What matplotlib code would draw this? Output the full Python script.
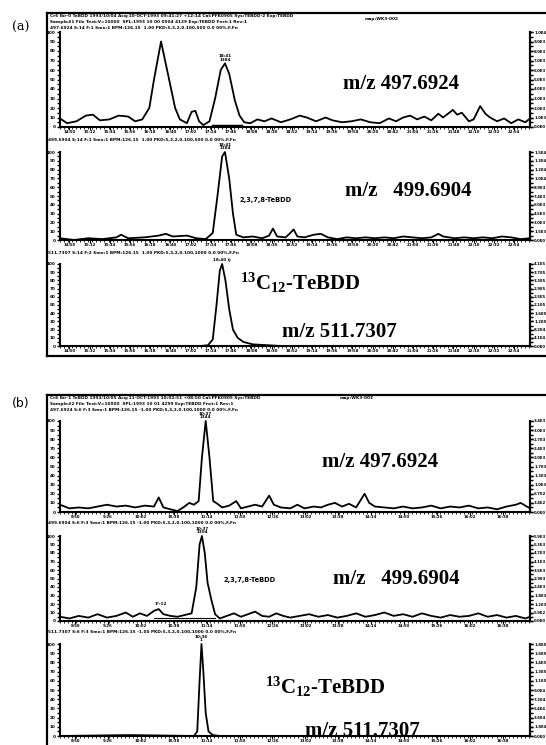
import matplotlib.pyplot as plt
from matplotlib.ticker import FixedLocator, MultipleLocator

plt.rcParams['font.family'] = ['DejaVu Sans']
plt.rcParams['mathtext.default'] = 'regular'

W, H = 546, 745

# ---- data: scan number vs relative intensity (%) ----
a1_scan = [0, 15, 35, 55, 70, 85, 105, 125, 145, 160, 175, 190, 200, 215, 230, 245, 255, 270, 280, 288,
           296, 305, 318, 330, 342, 351, 360, 372, 382, 392, 405, 420, 435, 450, 470, 490, 510, 525, 545, 565,
           580, 600, 620, 640, 660, 680, 700, 715, 730, 745, 760, 775, 790, 805, 815, 836, 845, 855, 870, 880,
           894, 905, 915, 930, 945, 960, 975, 990, 1000]
a1_int = [9, 4, 6, 12, 13, 7, 8, 12, 11, 6, 8, 20, 50, 90, 55, 20, 8, 4, 16, 17,
          6, 2, 6, 30, 60, 67, 56, 28, 12, 5, 4, 8, 6, 9, 5, 8, 12, 10, 6, 10,
          7, 5, 6, 8, 5, 4, 9, 6, 10, 12, 8, 11, 7, 14, 10, 18, 13, 15, 6, 8,
          22, 14, 10, 6, 9, 4, 8, 5, 9]
a1_base_scan = [325, 385]
a1_base_int = [1.5, 1.5]

a2_scan = [0, 30, 60, 90, 120, 130, 145, 180, 210, 225, 240, 270, 290, 310, 325, 335, 345, 351, 360, 368,
           375, 390, 410, 430, 445, 453, 462, 480, 490, 497, 505, 520, 540, 555, 570, 590, 610, 630, 650, 670,
           690, 710, 730, 750, 770, 790, 805, 815, 840, 860, 880, 900, 920, 940, 960, 980, 1000]
a2_int = [2, 0, 2, 1, 3, 6, 2, 3, 5, 7, 4, 5, 2, 1, 8, 50, 95, 100, 70, 30,
          6, 3, 4, 2, 5, 13, 4, 3, 8, 12, 4, 3, 6, 7, 3, 1, 3, 2, 3, 2,
          3, 2, 4, 3, 2, 3, 7, 4, 2, 3, 2, 3, 2, 4, 3, 1, 2]

a3_scan = [0, 150, 300, 315, 325, 333, 340, 345, 352, 360, 368, 378, 390, 410, 440, 470, 700, 1000]
a3_int = [0, 0, 0, 1, 8, 50, 92, 100, 80, 45, 20, 10, 5, 2, 1, 0, 0, 0]

b1_scan = [0, 20, 40, 60, 80, 100, 120, 140, 160, 180, 200, 210, 220, 235, 250, 265, 275, 285, 295, 302,
           310, 318, 326, 335, 345, 360, 375, 385, 400, 415, 430, 445, 455, 470, 490, 505, 520, 540, 555, 570,
           585, 600, 615, 630, 648, 658, 670, 690, 710, 730, 750, 770, 790, 810, 830, 850, 870, 890, 910, 930,
           950, 970, 980, 1000]
b1_int = [8, 4, 5, 4, 6, 8, 6, 7, 5, 7, 6, 16, 5, 3, 1, 6, 10, 8, 12, 60,
          100, 60, 12, 9, 5, 7, 12, 4, 6, 8, 6, 18, 8, 5, 4, 8, 4, 6, 5, 8,
          10, 6, 9, 5, 20, 10, 6, 5, 4, 6, 4, 5, 7, 4, 6, 5, 7, 4, 5, 3,
          6, 8, 10, 4]

b2_scan = [0, 20, 40, 60, 80, 100, 120, 140, 155, 170, 185, 200, 210, 220, 235, 250, 265, 280, 290, 297,
           302, 308, 314, 322, 330, 340, 355, 370, 385, 400, 415, 430, 445, 460, 475, 490, 510, 530, 550, 570,
           590, 610, 630, 650, 670, 690, 710, 730, 750, 770, 790, 810, 830, 850, 870, 890, 910, 930, 950, 970,
           990, 1000]
b2_int = [5, 3, 6, 4, 8, 4, 6, 10, 5, 9, 6, 12, 14, 8, 6, 5, 7, 9, 40, 90,
          100, 80, 45, 25, 8, 3, 6, 9, 5, 8, 11, 6, 5, 9, 6, 4, 6, 8, 5, 7,
          4, 6, 9, 5, 7, 10, 6, 8, 5, 9, 6, 4, 7, 5, 6, 9, 5, 7, 4, 6,
          3, 5]
b2_base_scan = [200, 330]
b2_base_int = [3, 3]

b3_scan = [0, 150, 285, 292, 297, 301, 305, 310, 316, 325, 340, 500, 1000]
b3_int = [0, 1, 0, 5, 60, 100, 70, 25, 5, 1, 0, 0, 0]

# retention-time tick labels
a_tick_scans = [20, 63, 106, 149, 192, 235, 278, 321, 364, 407, 450, 493, 536, 579, 622, 665,
                708, 751, 794, 837, 880, 923, 966]
a_tick_labels = ['14:50', '15:12', '15:34', '15:56', '16:18', '16:40', '17:02', '17:24', '17:46',
                 '18:08', '18:30', '18:52', '19:14', '19:36', '19:58', '20:20', '20:42', '21:04',
                 '21:26', '21:48', '22:10', '22:32', '22:54']
b_tick_scans = [32, 102, 172, 242, 312, 382, 452, 522, 592, 662, 732, 802, 872, 942]
b_tick_labels = ['8:50', '9:26', '10:02', '10:38', '11:14', '11:50', '12:26', '13:02', '13:38',
                 '14:14', '14:50', '15:26', '16:02', '16:38']

full_scale = {'a1': 9.98e3, 'a2': 1.49e4, 'a3': 4.11e5, 'b1': 3.36e3, 'b2': 5.88e3, 'b3': 1.80e5}


def box(x0, y0, x1, y1):
    return [x0 / W, 1 - y1 / H, (x1 - x0) / W, (y1 - y0) / H]


def ftext(x, y, s, **kw):
    fig.text(x / W, 1 - y / H, s, **kw)


def frame(x0, y0, x1, y1):
    fa = fig.add_axes(box(x0, y0, x1, y1))
    fa.set_facecolor('none')
    fa.set_xticks([])
    fa.set_yticks([])
    fa.spines['right'].set_visible(False)
    for s in ['left', 'top', 'bottom']:
        fa.spines[s].set_linewidth(1.6)


def chromatogram(rect, scans, ints, ticks, labels, key, peaks):
    ax = fig.add_axes(box(*rect))
    ax.plot(scans, ints, color='black', lw=1.3, solid_joinstyle='round', clip_on=False, zorder=3)
    ax.set_xlim(0, 1000)
    ax.set_ylim(0, 100)
    ax.spines['top'].set_visible(False)
    for s in ['left', 'right', 'bottom']:
        ax.spines[s].set_linewidth(1.5)
    ax.yaxis.set_major_locator(FixedLocator(range(0, 101, 10)))
    ax.yaxis.set_minor_locator(MultipleLocator(5))
    ax.set_yticklabels([str(v) for v in range(0, 101, 10)], fontsize=3, fontweight='bold')
    ax.tick_params(axis='y', which='both', right=True, length=2.5, width=1, pad=0.5)
    ax.xaxis.set_major_locator(FixedLocator(ticks))
    ax.xaxis.set_minor_locator(MultipleLocator(8.6))
    ax.set_xticklabels(labels, fontsize=2.8, fontweight='bold')
    ax.tick_params(axis='x', which='major', length=2.2, width=0.8, pad=0.3)
    ax.tick_params(axis='x', which='minor', length=1.4, width=0.6)
    fs = full_scale[key]
    sec = ax.secondary_yaxis('right', functions=(lambda v, f=fs: v * f / 100, lambda v, f=fs: v * 100 / f))
    sec.set_yticks([fs * k / 10 for k in range(11)])
    sec.set_yticklabels([f'{fs * k / 10:.1E}'.replace('E+0', 'E') for k in range(11)],
                        fontsize=2.8, fontweight='bold')
    sec.tick_params(length=2.5, width=1, pad=0.5)
    sec.spines['right'].set_linewidth(1.5)
    for px, py, txt in peaks:
        ax.annotate(txt, (px, py), xytext=(0, 1.2), textcoords='offset points', ha='center',
                    va='bottom', fontsize=3.0, fontweight='bold', linespacing=0.85, annotation_clip=False)
    return ax


fig = plt.figure(figsize=(W / 100, H / 100), dpi=100)

serif = dict(family='Liberation Serif', fontweight='bold', fontsize=15, va='center', ha='left')
tiny = dict(fontsize=3.1, fontweight='bold', va='center', ha='left')

# ---------------- panel (a) ----------------
frame(47, 13, 560, 356)
ftext(12, 27, '(a)', fontsize=9, va='center', family='DejaVu Serif')
ftext(50, 16, 'Cr6 Ibr-0 TeBDD 1993/10/04 Acq:10-OCT-1993 09:41:27 +12:14 Cal:PFK0905 Sys:TEBDD-2 Exp:TEBDD', **tiny)
ftext(50, 22, 'Sample#1 File Text:V=10000  SPL:1993 10 00 0904 4129 Exp:TEBDD Fnct:1 Rev:1', **tiny)
ftext(50, 28, '497.6924 S:14 F:1 Smo:1 BPM:126.15  1.00 PKD:5,3,2,0.100,500 0.0 00%,F,Fn', **tiny)
ftext(365, 19, 'map:WK3-002', **tiny)

ax = chromatogram((60, 32, 530, 127), a1_scan, a1_int, a_tick_scans, a_tick_labels, 'a1',
                  [(351, 67, '18:41\n1384')])
ax.plot(a1_base_scan, a1_base_int, color='black', lw=2.5, zorder=3)
ftext(48, 140, '499.6904 S:14 F:1 Smo:1 BPM:126.15  1.00 PKD:5,3,2,0.100,500 0.0 00%,F,Fn', **tiny)
chromatogram((60, 152, 530, 240), a2_scan, a2_int, a_tick_scans, a_tick_labels, 'a2',
             [(351, 100, '18:41\n1384')])
ftext(48, 253, '511.7307 S:14 F:2 Smo:1 BPM:126.15  1.00 PKD:5,3,2,0.100,1000 0.0 00%,F,Fn', **tiny)
chromatogram((60, 264, 530, 346), a3_scan, a3_int, a_tick_scans, a_tick_labels, 'a3',
             [(345, 100, '18:40 ij')])

ftext(343, 84, 'm/z 497.6924', **serif)
ftext(240, 200, '2,3,7,8-TeBDD', fontsize=4.8, fontweight='bold', va='center')
ftext(345, 191, 'm/z   499.6904', **serif)
ftext(240, 283, '$^{13}$C$_{12}$-TeBDD', **serif)
ftext(282, 332, 'm/z 511.7307', **serif)

# ---------------- panel (b) ----------------
frame(47, 395, 560, 770)
ftext(12, 403, '(b)', fontsize=9, va='center')
ftext(50, 398, 'Cr6 Ibr-1 TeBDD 1993/10/05 Acq:11-OCT-1993 10:02:51 +08:50 Cal:PFK0905 Sys:TEBDD', **tiny)
ftext(50, 404, 'Sample#2 File Text:V=10000  SPL:1993 10 01 4299 Exp:TEBDD Fnct:1 Rev:1', **tiny)
ftext(50, 410, '497.6924 S:6 F:3 Smo:1 BPM:126.15 -1.00 PKD:5,3,2,0.100,1000 0.0 00%,F,Fn', **tiny)
ftext(340, 398, 'map:WK3-003', **tiny)

chromatogram((60, 421, 530, 512), b1_scan, b1_int, b_tick_scans, b_tick_labels, 'b1',
             [(310, 100, '10:37\n1344')])
ftext(48, 523, '499.6904 S:6 F:3 Smo:1 BPM:126.15 -1.00 PKD:5,3,2,0.100,1000 0.0 00%,F,Fn', **tiny)
ax = chromatogram((60, 536, 530, 621), b2_scan, b2_int, b_tick_scans, b_tick_labels, 'b2',
                  [(302, 100, '10:37\n1304'), (215, 16, '1*:12')])
ax.plot(b2_base_scan, b2_base_int, color='black', lw=0.8, zorder=3)
ftext(48, 632, '511.7307 S:6 F:3 Smo:1 BPM:126.15 -1.00 PKD:5,3,2,0.100,1000 0.0 00%,F,Fn', **tiny)
chromatogram((60, 644, 530, 736), b3_scan, b3_int, b_tick_scans, b_tick_labels, 'b3',
             [(301, 100, '10:36\n1')])

ftext(322, 462, 'm/z 497.6924', **serif)
ftext(223, 580, '2,3,7,8-TeBDD', fontsize=4.8, fontweight='bold', va='center')
ftext(333, 579, 'm/z   499.6904', **serif)
ftext(265, 687, '$^{13}$C$_{12}$-TeBDD', **serif)
ftext(305, 731, 'm/z 511.7307', **serif)

plt.savefig('out.png', dpi=100)
